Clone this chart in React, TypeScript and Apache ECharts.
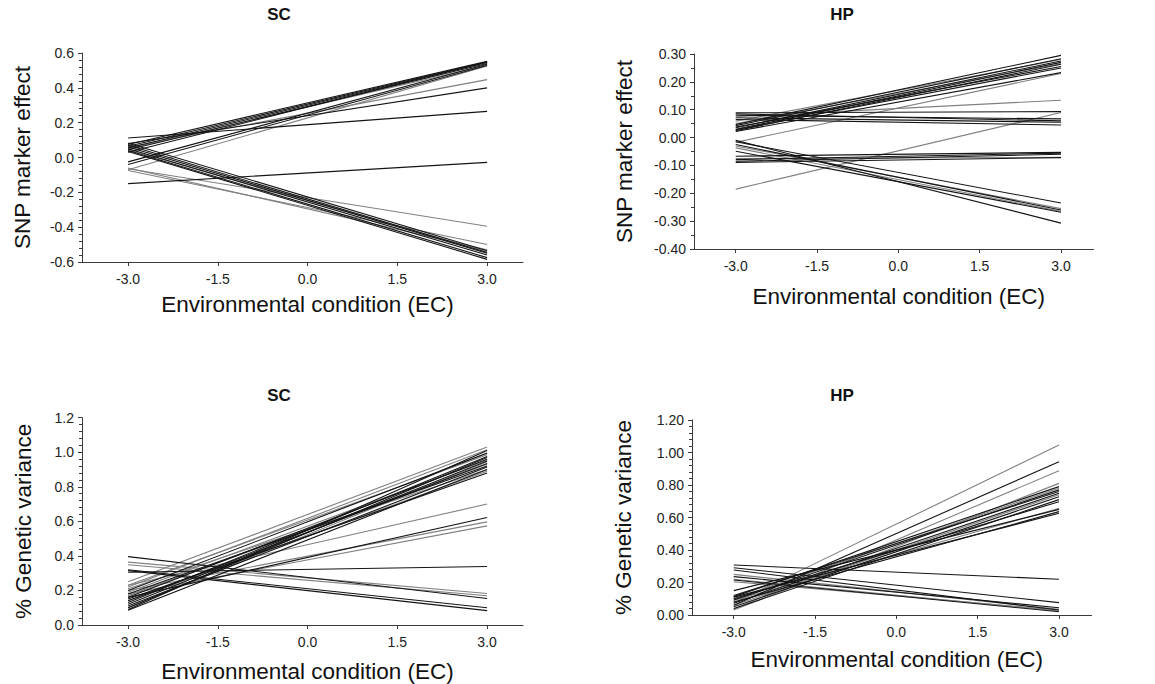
import React, { useEffect, useRef } from 'react';
import * as echarts from 'echarts';

// Environmental condition end points of every reaction-norm line
const ecEnds = [-3, 3];
const ecTicks = [-3, -1.5, 0, 1.5, 3];

// SNP marker effects for SC: [effect at EC=-3, effect at EC=3]
const scEffectDark = [
  [0.112, 0.265], [0.08, 0.4], [-0.15, -0.028],
  [0.075, 0.552], [0.065, 0.548], [0.055, 0.545], [0.045, 0.54],
  [-0.025, 0.535], [-0.04, 0.528], [0.03, 0.55],
  [0.082, -0.535], [0.07, -0.545], [0.06, -0.55], [0.05, -0.56],
  [0.04, -0.575], [0.035, -0.585],
];
const scEffectLight = [
  [0.06, 0.447], [-0.07, 0.525], [0.05, 0.53],
  [-0.065, -0.395], [-0.075, -0.5], [-0.06, -0.53], [0.045, -0.54],
];

// SNP marker effects for HP
const hpEffectDark = [
  [0.047, 0.295], [0.043, 0.283], [0.035, 0.275], [0.03, 0.27],
  [0.025, 0.263], [0.038, 0.255], [0.028, 0.25], [0.022, 0.233],
  [0.089, 0.093], [0.08, 0.067], [0.071, 0.055], [0.065, 0.045], [0.085, 0.06],
  [-0.067, -0.053], [-0.079, -0.056], [-0.089, -0.072], [-0.085, -0.06],
  [-0.01, -0.307], [-0.015, -0.235], [-0.025, -0.26], [-0.049, -0.268],
];
const hpEffectLight = [
  [0.059, 0.28], [0.05, 0.265], [-0.017, 0.23], [0.075, 0.134],
  [-0.185, 0.09], [-0.037, -0.265], [-0.03, -0.255], [-0.075, -0.071],
];

// Percentage of genetic variance for SC
const scVarDark = [
  [0.09, 1.01], [0.1, 0.97], [0.12, 0.95], [0.14, 0.935], [0.16, 0.96],
  [0.18, 0.92], [0.11, 0.915], [0.085, 0.9], [0.15, 0.88], [0.2, 0.995],
  [0.13, 0.975], [0.16, 0.622], [0.305, 0.339],
  [0.396, 0.153], [0.32, 0.1], [0.315, 0.083],
];
const scVarLight = [
  [0.25, 1.03], [0.22, 1.015], [0.19, 0.955], [0.17, 0.93], [0.21, 0.9],
  [0.14, 0.89], [0.23, 0.985], [0.1, 0.945],
  [0.23, 0.7], [0.2, 0.597], [0.18, 0.574],
  [0.364, 0.182], [0.349, 0.169],
];

// Percentage of genetic variance for HP
const hpVarDark = [
  [0.06, 0.943], [0.15, 0.65], [0.113, 0.79], [0.092, 0.77], [0.072, 0.749],
  [0.051, 0.728], [0.1, 0.697], [0.08, 0.636], [0.11, 0.626], [0.12, 0.76],
  [0.04, 0.71],
  [0.308, 0.22], [0.291, 0.076], [0.277, 0.031], [0.236, 0.045], [0.215, 0.02],
];
const hpVarLight = [
  [0.074, 1.046], [0.036, 0.888], [0.031, 0.81], [0.09, 0.656], [0.06, 0.74],
  [0.1, 0.78],
  [0.205, 0.03], [0.25, 0.035], [0.22, 0.025],
];

const panelTitles = ['SC', 'HP', 'SC', 'HP'];
const yNames = ['SNP marker effect', 'SNP marker effect', '% Genetic variance', '% Genetic variance'];
const xName = 'Environmental condition (EC)';

const FONT = '"Liberation Sans", Arial, Helvetica, sans-serif';
const DARK = '#141414';
const LIGHT = '#808080';
const AXIS = '#3a3a3a';

type Pair = number[];

const App: React.FC = () => {
  const ref = useRef<HTMLDivElement>(null);

  useEffect(() => {
    if (!ref.current) return;
    const chart = echarts.init(ref.current, undefined, { renderer: 'svg' });

    const grids = [
      { left: 82, top: 53, width: 441, height: 209 },
      { left: 694, top: 54, width: 399.5, height: 195 },
      { left: 82, top: 417.7, width: 441, height: 209 },
      { left: 692, top: 420, width: 399.5, height: 195 },
    ];

    const yCfg = [
      { min: -0.6, max: 0.6, interval: 0.2, digits: 1, minor: 5, gap: 48 },
      { min: -0.4, max: 0.3, interval: 0.1, digits: 2, minor: 2, gap: 58 },
      { min: 0, max: 1.2, interval: 0.2, digits: 1, minor: 5, gap: 47 },
      { min: 0, max: 1.2, interval: 0.2, digits: 2, minor: 5, gap: 57 },
    ];
    const xGaps = [31, 36, 35, 33];

    const xAxes = grids.map((_, i) => ({
      type: 'value',
      gridIndex: i,
      min: -3.77,
      max: 3.6,
      axisLine: { show: true, onZero: false, lineStyle: { color: AXIS, width: 1 } },
      axisTick: { show: true, customValues: ecTicks, length: 4, lineStyle: { color: AXIS } },
      axisLabel: {
        customValues: ecTicks,
        formatter: (v: number) => v.toFixed(1),
        fontSize: 14,
        fontFamily: FONT,
        color: '#222',
        margin: 10,
      },
      splitLine: { show: false },
      name: xName,
      nameLocation: 'middle',
      nameGap: xGaps[i],
      nameTextStyle: { fontSize: 22.5, fontFamily: FONT, color: '#111', padding: [0, 0, 0, 10] },
    }));

    const yAxes = yCfg.map((c, i) => ({
      type: 'value',
      gridIndex: i,
      min: c.min,
      max: c.max,
      interval: c.interval,
      axisLine: { show: true, onZero: false, lineStyle: { color: AXIS, width: 1 } },
      axisTick: { show: true, length: 4, lineStyle: { color: AXIS } },
      minorTick: { show: true, splitNumber: c.minor, length: 3, lineStyle: { color: AXIS } },
      axisLabel: {
        formatter: (v: number) => v.toFixed(c.digits),
        fontSize: 14,
        fontFamily: FONT,
        color: '#222',
        margin: 8,
      },
      splitLine: { show: false },
      minorSplitLine: { show: false },
      name: yNames[i],
      nameLocation: 'middle',
      nameGap: c.gap,
      nameTextStyle: { fontSize: 22.5, fontFamily: FONT, color: '#111' },
    }));

    const groups: { dark: Pair[]; light: Pair[] }[] = [
      { dark: scEffectDark, light: scEffectLight },
      { dark: hpEffectDark, light: hpEffectLight },
      { dark: scVarDark, light: scVarLight },
      { dark: hpVarDark, light: hpVarLight },
    ];

    const series: any[] = [];
    groups.forEach((g, i) => {
      const add = (pairs: Pair[], color: string) => {
        pairs.forEach((p) => {
          series.push({
            type: 'line',
            xAxisIndex: i,
            yAxisIndex: i,
            data: [[ecEnds[0], p[0]], [ecEnds[1], p[1]]],
            symbol: 'none',
            silent: true,
            lineStyle: { color, width: 1.1 },
          });
        });
      };
      add(g.light, LIGHT);
      add(g.dark, DARK);
    });

    const titlePos = [
      [279, 14], [842, 14], [279, 395], [842, 395],
    ];

    chart.setOption({
      animation: false,
      backgroundColor: '#ffffff',
      grid: grids,
      xAxis: xAxes,
      yAxis: yAxes,
      series,
      graphic: panelTitles.map((t, i) => ({
        type: 'text',
        x: titlePos[i][0],
        y: titlePos[i][1],
        style: {
          text: t,
          fontSize: 17,
          fontWeight: 'bold',
          fontFamily: FONT,
          fill: '#111',
          align: 'center',
          verticalAlign: 'middle',
        },
      })),
    });

    return () => chart.dispose();
  }, []);

  return (
    <div
      ref={ref}
      style={{ position: 'absolute', left: 0, top: 0, width: 1155, height: 684, background: '#fff' }}
    />
  );
};

export default App;
